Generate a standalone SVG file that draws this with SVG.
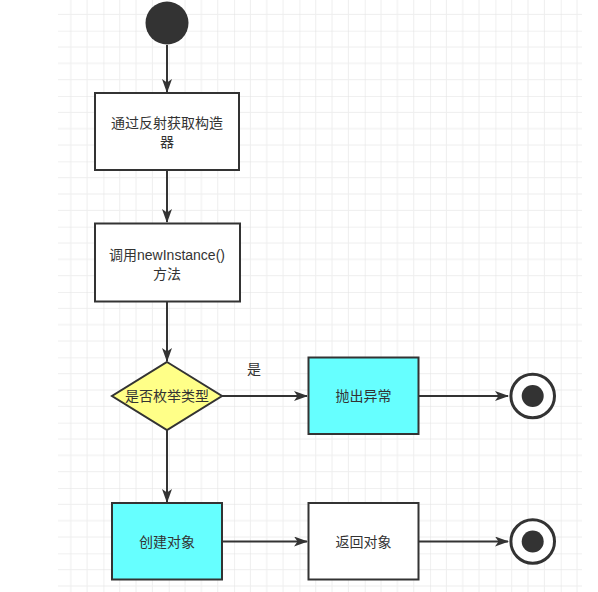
<svg xmlns="http://www.w3.org/2000/svg" width="598" height="592" viewBox="0 0 598 592">
<style>
.box{stroke:#333;stroke-width:2}
.edge{stroke:#333;stroke-width:2;fill:none}
.t{font-family:"Liberation Sans","Noto Sans CJK SC",sans-serif;font-size:14px;fill:#333;text-anchor:middle;dominant-baseline:central}
</style>
<defs>
<pattern id="grid" patternUnits="userSpaceOnUse" x="38.07" y="-34.63" width="65.33" height="65.33">
<path d="M16.33 0V65.33M32.67 0V65.33M49 0V65.33M0 16.33H65.33M0 32.67H65.33M0 49H65.33" stroke="#eeeeee" stroke-width="1" fill="none"/>
<path d="M0 0V65.33M0 0H65.33" stroke="#e2e2e2" stroke-width="1" fill="none"/>
</pattern>
<marker id="arr" viewBox="0 0 14 10" refX="13" refY="5" markerWidth="14" markerHeight="10" markerUnits="userSpaceOnUse" orient="auto">
<path d="M0 0L14 5L0 10L3.5 5Z" fill="#333"/>
</marker>
</defs>
<rect width="598" height="592" fill="#fff"/>
<rect x="58" y="0" width="524" height="592" fill="url(#grid)"/>
<g id="connectors">
<path class="edge" d="M167 45V92" marker-end="url(#arr)"/>
<path class="edge" d="M167 170V222" marker-end="url(#arr)"/>
<path class="edge" d="M167 302V361" marker-end="url(#arr)"/>
<path class="edge" d="M222 396H307" marker-end="url(#arr)"/>
<path class="edge" d="M418 396H508" marker-end="url(#arr)"/>
<path class="edge" d="M167 430V502" marker-end="url(#arr)"/>
<path class="edge" d="M222 541.5H307" marker-end="url(#arr)"/>
<path class="edge" d="M418 541.5H508" marker-end="url(#arr)"/>
<text class="t" x="254" y="369">是</text>
</g>
<g id="start"><circle cx="167" cy="23" r="21.5" fill="#333"/></g>
<g id="n1">
<rect class="box" x="95" y="93" width="144" height="77" fill="#fff"/>
<text class="t" x="167" y="123">通过反射获取构造</text>
<text class="t" x="167" y="141.5">器</text>
</g>
<g id="n2">
<rect class="box" x="95" y="223.5" width="145" height="78" fill="#fff"/>
<text class="t" x="167" y="255">调用newInstance()</text>
<text class="t" x="167" y="273.5">方法</text>
</g>
<g id="decision">
<path class="box" d="M167 362L222 396L167 430L112 396Z" fill="#ffff88"/>
<text class="t" x="167" y="396">是否枚举类型</text>
</g>
<g id="throw">
<rect class="box" x="308.5" y="357.5" width="110" height="76.5" fill="#66ffff"/>
<text class="t" x="363.5" y="396">抛出异常</text>
</g>
<g id="end1">
<circle cx="532.7" cy="396" r="21.8" fill="#fff" stroke="#333" stroke-width="3"/>
<circle cx="532.7" cy="396" r="11" fill="#333"/>
</g>
<g id="create">
<rect class="box" x="112" y="503" width="110" height="76.5" fill="#66ffff"/>
<text class="t" x="167" y="541.5">创建对象</text>
</g>
<g id="ret">
<rect class="box" x="308.5" y="503" width="110" height="76.5" fill="#fff"/>
<text class="t" x="363.5" y="541.5">返回对象</text>
</g>
<g id="end2">
<circle cx="532.7" cy="541.5" r="21.8" fill="#fff" stroke="#333" stroke-width="3"/>
<circle cx="532.7" cy="541.5" r="11" fill="#333"/>
</g>
</svg>
